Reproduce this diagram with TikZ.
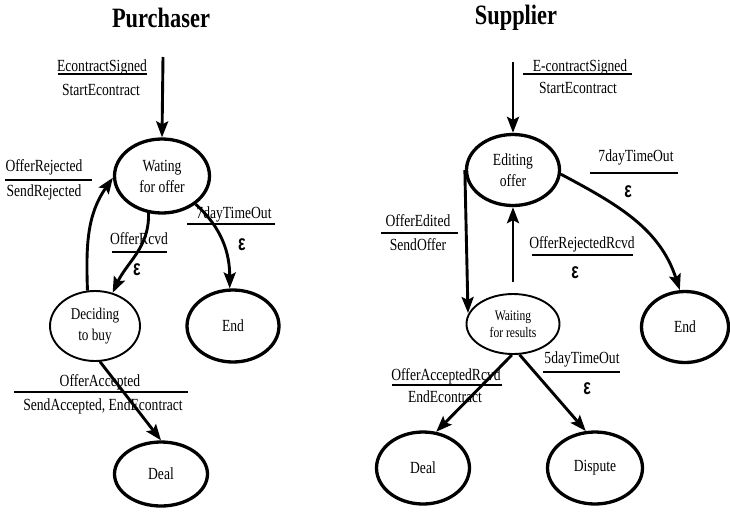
\documentclass[tikz,border=0pt]{standalone}
\usepackage{fontspec}
\setmainfont[FakeStretch=0.8]{Liberation Serif}
\newfontfamily\epsfont[FakeStretch=0.72]{Liberation Sans}
\usetikzlibrary{arrows.meta,shapes.geometric}

\tikzset{
  stbox/.style={draw, ellipse, line width=3.3pt, inner sep=0pt, align=center, font=\fontsize{17}{21}\selectfont},
  stthin/.style={stbox, line width=1.9pt},
  trans/.style={-{Stealth[length=16pt,width=12pt,inset=3pt]}, line width=2.9pt},
  lbl/.style={font=\fontsize{17}{19}\selectfont, inner sep=0pt},
  eps/.style={font=\epsfont\bfseries\fontsize{22}{22}\selectfont, inner sep=0pt},
  bar/.style={line width=1.5pt},
  ttl/.style={font=\bfseries\fontsize{28}{30}\selectfont}
}

\begin{document}
\begin{tikzpicture}[x=1pt, y=-1pt]
  \useasboundingbox (0,0) rectangle (730,517);

  % Purchaser side
  \node[ttl] (ptitle) at (161,18) {Purchaser};
  \coordinate (pstart) at (163,57);
  \node[stbox, minimum width=95pt, minimum height=74pt] (wait) at (162,176) {Wating\\for offer};
  \node[stthin, minimum width=90pt, minimum height=70pt, font=\fontsize{16.5}{21}\selectfont] (decide) at (95,326) {Deciding\\to buy};
  \node[stbox, minimum width=92pt, minimum height=72pt] (pend) at (233,326) {End};
  \node[stbox, minimum width=93pt, minimum height=64pt] (pdeal) at (161,474) {Deal};

  \draw[trans] (pstart) -- (wait.north);
  \draw[trans] (wait.250) to[out=-88, in=65] (decide.62);
  \draw[trans] (decide.102) to[out=92, in=235] (wait.182);
  \draw[trans] (wait.-40) to[out=-42, in=90] (pend.95);
  \draw[trans] (decide.-82) -- (pdeal.north);

  % Purchaser labels
  \node[lbl] (l1a) at (102,67) {EcontractSigned};
  \draw[bar] (58,74) -- (147,74);
  \node[lbl] (l1b) at (101,90) {StartEcontract};
  \node[lbl] (l2a) at (44,167) {OfferRejected};
  \draw[bar] (5,180) -- (92,180);
  \node[lbl] (l2b) at (44,192) {SendRejected};
  \node[lbl] (l3a) at (139,239) {OfferRcvd};
  \draw[bar] (112,252) -- (167,252);
  \node[eps] (l3b) at (137,270) {ε};
  \node[lbl] (l4a) at (234,214) {7dayTimeOut};
  \draw[bar] (187,224) -- (275,224);
  \node[eps] (l4b) at (242,245) {ε};
  \node[lbl] (l5a) at (100,382) {OfferAccepted};
  \draw[bar] (14,392) -- (188,392);
  \node[lbl] (l5b) at (103,406) {SendAccepted, EndEcontract};

  % Supplier side
  \node[ttl] (stitle) at (516,18) {Supplier};
  \coordinate (sstart) at (513,62);
  \node[stbox, minimum width=93pt, minimum height=71pt] (edit) at (513,170) {Editing\\offer};
  \node[stthin, minimum width=93pt, minimum height=60pt, font=\fontsize{14.5}{17}\selectfont] (results) at (513,324) {Waiting\\for results};
  \node[stbox, minimum width=87pt, minimum height=71pt] (send) at (685,327) {End};
  \node[stbox, minimum width=93pt, minimum height=72pt] (sdeal) at (423,468) {Deal};
  \node[stbox, minimum width=95pt, minimum height=72pt] (dispute) at (595,468) {Dispute};
  \coordinate (rtip) at (468,313);

  \draw[trans] (sstart) -- (edit.north);
  \draw[trans] (edit.west) -- (rtip);
  \draw[trans, shorten <=11pt] (results.north) -- (edit.south);
  \draw[trans] (edit.-5) to[out=-28, in=108] (send.98);
  \draw[trans] (results.-92) -- (sdeal.70);
  \draw[trans] (results.-78) -- (dispute.104);

  % Supplier labels
  \node[lbl] (r1a) at (580,67) {E-contractSigned};
  \draw[bar] (523,74) -- (632,74);
  \node[lbl] (r1b) at (578,88) {StartEcontract};
  \node[lbl] (r2a) at (636,157) {7dayTimeOut};
  \draw[bar] (590,173) -- (678,173);
  \node[eps] (r2b) at (628,192) {ε};
  \node[lbl] (r3a) at (418,221) {OfferEdited};
  \draw[bar] (381,233) -- (458,233);
  \node[lbl] (r3b) at (418,245) {SendOffer};
  \node[lbl] (r4a) at (582,244) {OfferRejectedRcvd};
  \draw[bar] (532,255) -- (633,255);
  \node[eps] (r4b) at (575,273) {ε};
  \node[lbl] (r5a) at (582,359) {5dayTimeOut};
  \draw[bar] (543,372) -- (620,372);
  \node[eps] (r5b) at (587,389) {ε};
  \node[lbl] (r6a) at (446,376) {OfferAcceptedRcvd};
  \draw[bar] (392,385) -- (502,385);
  \node[lbl] (r6b) at (445,397) {EndEcontract};
\end{tikzpicture}
\end{document}
